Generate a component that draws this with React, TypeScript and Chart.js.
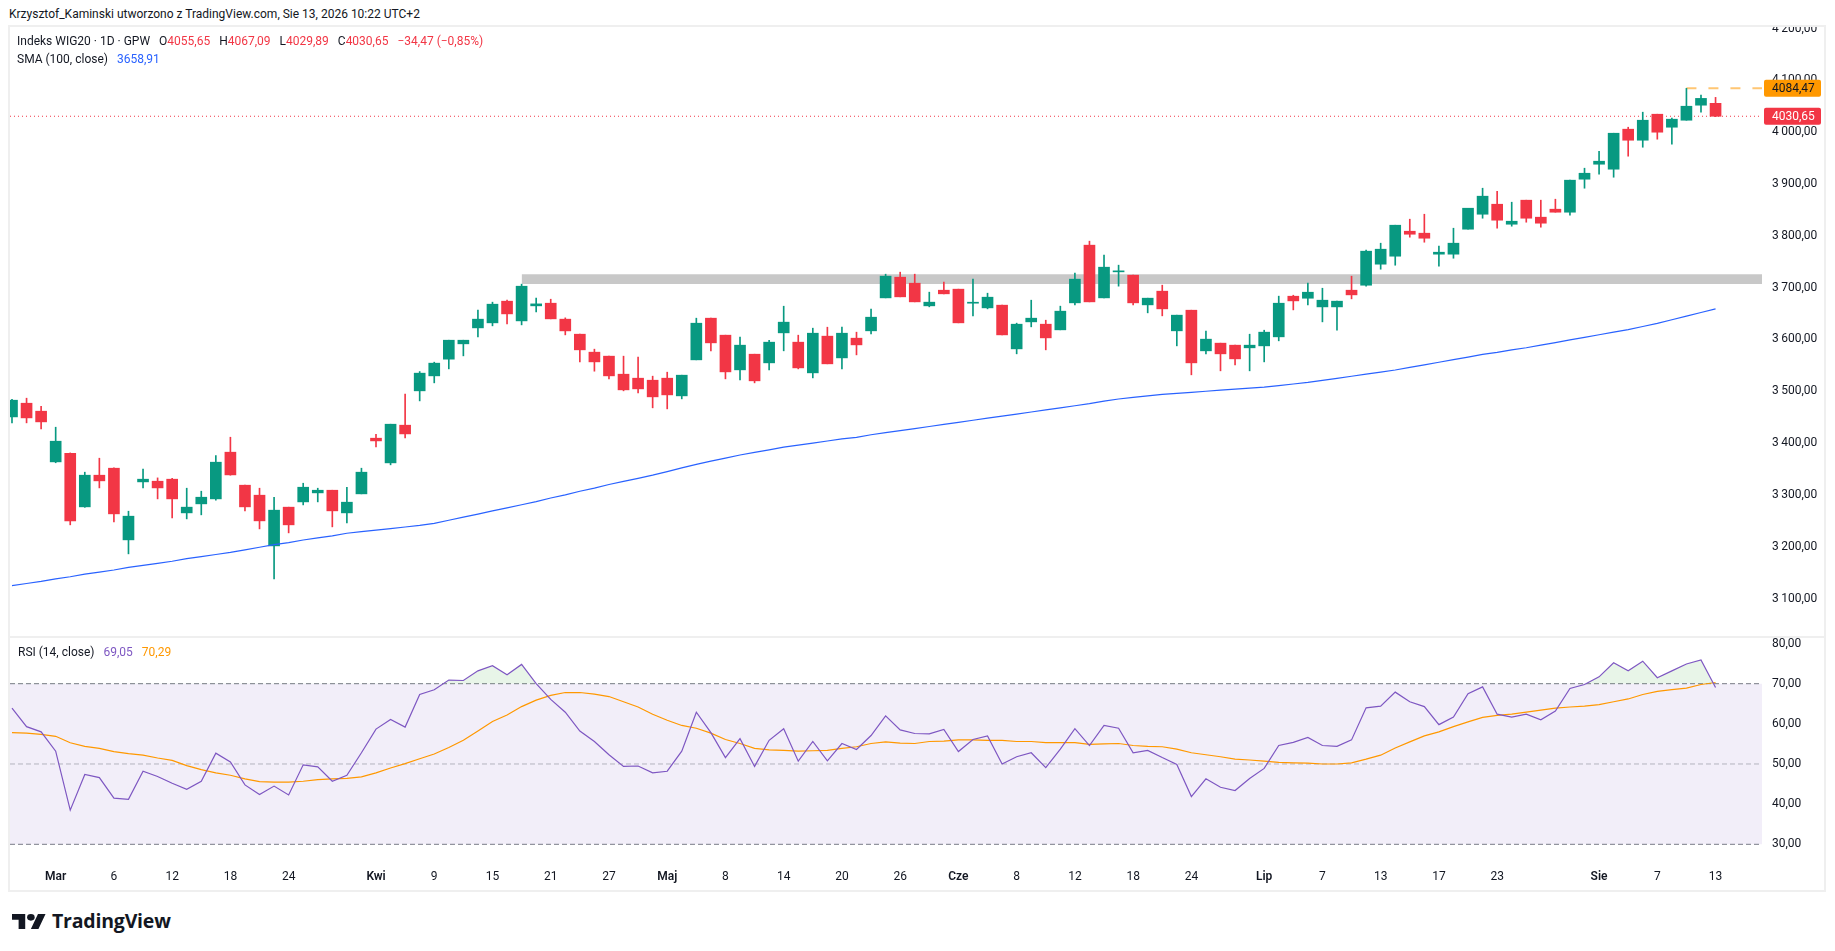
import React, { useEffect, useRef } from 'react';
import { Chart, registerables } from 'chart.js';

Chart.register(...registerables);

// ---------------- data ----------------
const opens = [
  3450.5, 3476.9, 3461.5, 3363.7, 3380.4, 3276.9, 3338, 3351.5, 3213.2, 3325.1,
  3326.4, 3330.3, 3265.3, 3282.7, 3292.3, 3382.4, 3318.7, 3299.4, 3201.6, 3276.3,
  3286.5, 3303.9, 3309, 3265.3, 3302, 3409.4, 3361.8, 3434.5, 3500.8, 3529.7,
  3561.9, 3591.5, 3622.3, 3632, 3673.8, 3635.8, 3664.8, 3669.9, 3639.1, 3610.1,
  3575.4, 3567.7, 3532.9, 3525.2, 3521.3, 3525.2, 3491.1, 3560.6, 3641, 3608.2,
  3541.3, 3571.5, 3554.8, 3612.7, 3594.7, 3535.5, 3606.3, 3564.4, 3602.4, 3616.6,
  3680.2, 3720.1, 3708.5, 3664.8, 3695, 3697, 3669.9, 3660.9, 3666.1, 3581.8,
  3633.9, 3629.4, 3618.5, 3670.6, 3781.9, 3680.2, 3730.4, 3724, 3666.7, 3693.1,
  3616.6, 3656.4, 3578, 3592.8, 3588.9, 3583.8, 3587.6, 3605, 3683.4, 3679.5,
  3662.8, 3662.8, 3695, 3704.6, 3745.2, 3760.6, 3808.8, 3805, 3764.5, 3764.5,
  3812.7, 3841.6, 3860.9, 3822.3, 3868.7, 3835.9, 3851.3, 3845.5, 3909.2, 3938.1,
  3928.5, 4005.7, 3984.4, 4034.6, 4009.5, 4023, 4052, 4055.65,
];
const highs = [
  3484.6, 3486.6, 3471.1, 3430.6, 3381, 3343.8, 3370.8, 3352, 3268.5, 3349.6,
  3332.8, 3332.2, 3312.9, 3307.1, 3376, 3411.3, 3318.7, 3312.9, 3295.5, 3276.3,
  3322.5, 3312.9, 3309, 3314.8, 3351.5, 3417.1, 3436.4, 3494.3, 3538, 3556.1,
  3598.5, 3598.5, 3656.4, 3671.9, 3675.7, 3706.6, 3679.6, 3677.6, 3641.6, 3610.1,
  3581.2, 3567.7, 3567.7, 3565.7, 3529.1, 3536.8, 3531, 3641, 3641, 3608.2,
  3604.3, 3571.5, 3598.5, 3664.1, 3608.2, 3621.7, 3623.6, 3623.6, 3614, 3658.4,
  3725.9, 3729.8, 3725.9, 3691.2, 3710.5, 3697, 3716.3, 3689.2, 3666.1, 3631.4,
  3675.7, 3637.1, 3664.2, 3727.8, 3789.6, 3762.6, 3743.3, 3724, 3679.6, 3704.7,
  3646.8, 3656.4, 3615.9, 3592.8, 3588.9, 3610.1, 3617.8, 3683.5, 3685.3, 3708.5,
  3698.8, 3673.8, 3722, 3772.2, 3785.7, 3820.4, 3832, 3841.6, 3779.9, 3814.6,
  3853.2, 3891.8, 3886, 3864.8, 3868.7, 3868.7, 3870.6, 3907.3, 3930.4, 3963.2,
  3997.9, 4009.5, 4038.5, 4034.6, 4026.9, 4084.47, 4071.3, 4067.09,
];
const lows = [
  3439, 3439, 3427.4, 3362, 3242.2, 3276, 3313.5, 3248, 3186.2, 3313.5,
  3292.3, 3255.7, 3253.7, 3261.5, 3289.7, 3338, 3269.2, 3234.4, 3138, 3226.7,
  3280.7, 3286.5, 3238.3, 3246, 3302, 3392.7, 3358, 3410, 3481.4, 3516.2,
  3543.2, 3568.3, 3605, 3626.2, 3630, 3628.1, 3653.2, 3639.7, 3608.8, 3556.7,
  3538.7, 3523.9, 3500.8, 3496.9, 3468, 3466, 3485.3, 3560.6, 3578, 3523.9,
  3522, 3516.2, 3541.3, 3578, 3543.2, 3525.8, 3552.9, 3543.2, 3570.2, 3610.8,
  3680.2, 3682.2, 3672.5, 3662.9, 3688, 3632, 3645.5, 3659, 3608.8, 3572.2,
  3624.3, 3579.9, 3618.5, 3666.7, 3672.5, 3680.2, 3702.8, 3666.7, 3651.3, 3645.5,
  3587.6, 3531.7, 3572.2, 3539.4, 3550.9, 3539.4, 3556.7, 3597.3, 3657, 3666.7,
  3633.9, 3617.8, 3678.3, 3702.7, 3735.5, 3743.2, 3797.3, 3787.6, 3741.3, 3756.7,
  3812.7, 3833.9, 3814.6, 3818.5, 3826.2, 3816.6, 3845.5, 3839.7, 3891.8, 3918.8,
  3913, 3953.6, 3970.9, 3986.4, 3976.7, 4023, 4038.5, 4029.89,
];
const closes = [
  3482.7, 3448.6, 3440.9, 3403.6, 3249.9, 3338, 3327.1, 3263.4, 3258.9, 3330.3,
  3313.5, 3292.3, 3276.3, 3295.5, 3363.1, 3338.6, 3276.9, 3249.9, 3270.5, 3242.2,
  3314.8, 3309, 3269.2, 3285.9, 3343.8, 3404.2, 3436.4, 3417.7, 3534.9, 3554.2,
  3598.5, 3598.5, 3639.1, 3668, 3649.3, 3702.7, 3668.6, 3639.7, 3616.5, 3579.9,
  3556.7, 3529.7, 3502.7, 3504.6, 3489.2, 3493, 3531, 3631.3, 3593.4, 3537.4,
  3588.9, 3520.1, 3594.7, 3633.3, 3545.1, 3612, 3552.9, 3612, 3589.5, 3642.9,
  3722.1, 3682.2, 3672.5, 3671.9, 3688, 3632, 3671, 3681.5, 3608.8, 3629.4,
  3641, 3603, 3654.5, 3716.3, 3672.5, 3739.4, 3731.7, 3670.6, 3679.6, 3659,
  3646.8, 3554.8, 3600.5, 3572.2, 3562.5, 3588.9, 3614, 3669.9, 3674.4, 3691.1,
  3675.7, 3673.8, 3686, 3770.3, 3774.1, 3820.4, 3803, 3795.3, 3768.3, 3785.7,
  3853.2, 3876.4, 3830.1, 3828.1, 3833.9, 3824.3, 3845.5, 3907.3, 3920.7, 3943.9,
  3997.9, 3984.4, 4023, 3999.9, 4025, 4050, 4065.12, 4030.65,
];
const sma100 = [
  3125, 3129, 3133, 3138, 3142, 3147, 3151, 3155, 3160, 3164,
  3168, 3172, 3177, 3181, 3185, 3189, 3194, 3199, 3204, 3208,
  3213, 3217, 3221, 3226, 3229, 3232, 3235, 3238, 3241, 3245,
  3251, 3257, 3263, 3269, 3275, 3281, 3287, 3294, 3300, 3307,
  3313, 3320, 3326, 3332, 3338, 3345, 3352, 3359, 3365, 3371,
  3377, 3382, 3387, 3392, 3396, 3400, 3404, 3408, 3411, 3416,
  3420, 3424, 3428, 3432, 3436, 3440, 3444, 3448, 3452, 3456,
  3460, 3464, 3468, 3472, 3476, 3481, 3485, 3488, 3491, 3494,
  3496, 3498, 3500, 3502, 3504, 3506, 3508, 3511, 3514, 3517,
  3521, 3525, 3529, 3533, 3537, 3541, 3546, 3551, 3556, 3561,
  3566, 3571, 3575, 3580, 3584, 3589, 3594, 3599, 3604, 3609,
  3614, 3619, 3625, 3631, 3638, 3645, 3652, 3658.91,
];
const rsi14 = [
  63.9, 59.3, 58.0, 53.2, 38.5, 47.4, 46.6, 41.5, 41.2, 48.2,
  46.9, 45.2, 43.7, 45.7, 52.7, 50.5, 44.8, 42.4, 44.5, 42.3,
  49.8, 49.3, 45.7, 47.2, 52.8, 58.7, 61.1, 59.2, 67.3, 68.5,
  70.9, 70.8, 73.2, 74.5, 72.2, 74.8, 70.0, 66.1, 62.9, 58.2,
  55.6, 52.3, 49.4, 49.5, 47.8, 48.2, 53.2, 62.9, 57.8, 51.6,
  56.3, 49.4, 55.9, 58.8, 50.7, 55.6, 50.8, 55.1, 53.6, 57.1,
  62.0, 58.5, 57.6, 57.5, 58.6, 53.1, 56.1, 57.0, 50.0, 51.8,
  52.8, 49.1, 53.7, 58.8, 54.6, 59.6, 58.9, 52.8, 53.4, 51.6,
  49.9, 41.9, 46.3, 44.2, 43.4, 46.4, 48.9, 54.6, 55.4, 56.6,
  54.6, 54.4, 56.0, 64.0, 64.4, 67.9, 65.5, 64.3, 59.8, 61.7,
  67.5, 69.2, 62.4, 61.7, 62.4, 61.0, 63.2, 68.8, 69.8, 71.7,
  75.2, 73.2, 75.6, 71.5, 73.2, 74.9, 75.9, 69.05,
];
const rsiMa = [
  57.8, 57.7, 57.4, 56.9, 55.3, 54.4, 53.9, 53.1, 52.6, 52.2,
  51.5, 50.9, 49.6, 48.6, 47.8, 47.2, 46.3, 45.6, 45.5, 45.5,
  45.7, 46.1, 46.3, 46.4, 46.8, 47.8, 49.0, 50.1, 51.3, 52.5,
  54.1, 55.9, 58.2, 60.6, 62.2, 64.3, 65.9, 67.1, 67.8, 67.8,
  67.4, 66.8, 65.5, 64.2, 62.4, 60.9, 59.6, 58.9, 57.7, 56.1,
  55.1, 53.9, 53.5, 53.4, 53.2, 53.3, 53.4, 53.9, 54.3, 55.1,
  55.5, 55.2, 55.1, 55.6, 55.7, 56.0, 56.0, 55.9, 55.9, 55.6,
  55.6, 55.3, 55.3, 55.3, 54.9, 55.0, 55.1, 54.6, 54.4, 54.3,
  53.7, 52.8, 52.3, 51.8, 51.2, 51.0, 50.7, 50.4, 50.3, 50.2,
  50.0, 50.0, 50.3, 51.2, 52.2, 54.0, 55.5, 57.0, 58.0, 59.3,
  60.5, 61.6, 62.1, 62.4, 62.9, 63.4, 63.9, 64.2, 64.4, 64.8,
  65.5, 66.2, 67.3, 68.1, 68.5, 68.9, 69.8, 70.29,
];

const timeTickIndex = [3, 7, 11, 15, 19, 25, 29, 33, 37, 41, 45, 49, 53, 57, 61, 65, 69, 73, 77, 81, 86, 90, 94, 98, 102, 109, 113, 117];
const timeTickText = ['Mar', '6', '12', '18', '24', 'Kwi', '9', '15', '21', '27', 'Maj', '8', '14', '20', '26', 'Cze', '8', '12', '18', '24', 'Lip', '7', '13', '17', '23', 'Sie', '7', '13'];
const monthLabels = ['Mar', 'Kwi', 'Maj', 'Cze', 'Lip', 'Sie'];
const priceTicks = [3100, 3200, 3300, 3400, 3500, 3600, 3700, 3800, 3900, 4000, 4100, 4200];
const rsiTicks = [30, 40, 50, 60, 70, 80];
const rsiLevels = [70, 50, 30];
const zoneStartIndex = 35;
const zoneTop = 3726;
const zoneBottom = 3707;
const highestIndex = 115;

// ---------------- styling / layout ----------------
const FONT = "Roboto, 'Liberation Sans', Arial, sans-serif";
const TEXT = '#131722';
const UP = '#089981';
const DOWN = '#F23645';
const SMA_COLOR = '#2962FF';
const RSI_COLOR = '#7E57C2';
const RSI_MA_COLOR = '#FF9800';
const X_MIN = -0.137;
const X_MAX = 120.19;
const AXIS_W = 62;

const last = closes.length - 1;
const lastClose = closes[last];
const highestHigh = highs[highestIndex];

const fmt2 = (v: number) => v.toFixed(2).replace('.', ',');
const fmtGrouped = (v: number) => {
  const [i, d] = v.toFixed(2).split('.');
  return i.replace(/\B(?=(\d{3})+(?!\d))/g, '\u2009') + ',' + d;
};
const minus = (s: string) => s.replace('-', '\u2212');

const candleColor = (ctx: any) => {
  const i = ctx.dataIndex ?? 0;
  return closes[i] >= opens[i] ? UP : DOWN;
};

const xScale = (show: boolean): any => ({
  type: 'linear',
  min: X_MIN,
  max: X_MAX,
  bounds: 'data',
  offset: false,
  display: show,
  position: 'bottom',
  grid: { display: false, drawTicks: false },
  border: { display: false },
  afterBuildTicks: (s: any) => {
    s.ticks = timeTickIndex.map((v) => ({ value: v }));
  },
  afterFit: (s: any) => {
    s.height = show ? 30 : 0;
    s.paddingLeft = 0;
    s.paddingRight = 0;
  },
  ticks: {
    autoSkip: false,
    maxRotation: 0,
    minRotation: 0,
    padding: 9.5,
    color: TEXT,
    font: (c: any) => ({
      family: FONT,
      size: 12,
      weight: monthLabels.includes(timeTickText[c.index]) ? '600' : '400',
    }),
    callback: (_v: any, i: number) => timeTickText[i],
  },
});

const yScale = (min: number, max: number, ticks: number[], fmt: (v: number) => string): any => ({
  type: 'linear',
  position: 'right',
  min,
  max,
  bounds: 'data',
  beginAtZero: false,
  grid: { display: false, drawTicks: false },
  border: { display: false },
  afterBuildTicks: (s: any) => {
    s.ticks = ticks.map((v) => ({ value: v }));
  },
  afterFit: (s: any) => {
    s.width = AXIS_W;
    s.paddingTop = 0;
    s.paddingBottom = 0;
  },
  ticks: {
    padding: 10,
    color: TEXT,
    font: { family: FONT, size: 12 },
    callback: (v: any) => fmt(Number(v)),
  },
});

const priceLabelPlugin = {
  id: 'priceLabels',
  afterDraw(chart: any) {
    const { ctx, chartArea, scales } = chart;
    const y = scales.y;
    const items = [
      { v: highestHigh, bg: '#FF9800', fg: TEXT },
      { v: lastClose, bg: DOWN, fg: '#FFFFFF' },
    ];
    ctx.save();
    items.forEach((it) => {
      const py = y.getPixelForValue(it.v);
      const x0 = chartArea.right + 2;
      const w = 57;
      const h = 17;
      ctx.fillStyle = it.bg;
      ctx.beginPath();
      if (ctx.roundRect) ctx.roundRect(x0, py - h / 2, w, h, 2);
      else ctx.rect(x0, py - h / 2, w, h);
      ctx.fill();
      ctx.fillStyle = it.fg;
      ctx.font = `12px ${FONT}`;
      ctx.textBaseline = 'middle';
      ctx.textAlign = 'left';
      ctx.fillText(fmt2(it.v), chartArea.right + 10, py + 0.5);
    });
    ctx.restore();
  },
};

function priceConfig(): any {
  const idx = closes.map((_c, i) => i);
  return {
    type: 'bar',
    data: {
      datasets: [
        {
          type: 'line',
          order: 9,
          data: [
            { x: zoneStartIndex, y: zoneTop },
            { x: X_MAX, y: zoneTop },
          ],
          borderWidth: 0,
          borderColor: 'rgba(0,0,0,0)',
          backgroundColor: '#C8C8C8',
          fill: { value: zoneBottom },
          pointRadius: 0,
        },
        {
          type: 'line',
          order: 8,
          data: [
            { x: X_MIN, y: lastClose },
            { x: X_MAX, y: lastClose },
          ],
          borderWidth: 1,
          borderColor: DOWN,
          borderDash: [1, 3],
          pointRadius: 0,
          fill: false,
        },
        {
          type: 'line',
          order: 7,
          data: [
            { x: highestIndex, y: highestHigh },
            { x: X_MAX, y: highestHigh },
          ],
          borderWidth: 2,
          borderColor: 'rgba(255,152,0,0.55)',
          borderDash: [10, 12],
          pointRadius: 0,
          fill: false,
        },
        {
          type: 'bar',
          order: 3,
          grouped: false,
          data: idx.map((i) => ({ x: i, y: [lows[i], highs[i]] })),
          backgroundColor: candleColor,
          borderWidth: 0,
          barThickness: 1,
          minBarLength: 1,
        },
        {
          type: 'bar',
          order: 2,
          grouped: false,
          data: idx.map((i) => ({ x: i, y: [Math.min(opens[i], closes[i]), Math.max(opens[i], closes[i])] })),
          backgroundColor: candleColor,
          borderWidth: 0,
          barThickness: 11,
          minBarLength: 1,
        },
        {
          type: 'line',
          order: 1,
          data: idx.map((i) => ({ x: i, y: sma100[i] })),
          borderWidth: 1.2,
          borderColor: SMA_COLOR,
          pointRadius: 0,
          tension: 0,
          fill: false,
        },
      ],
    },
    options: {
      responsive: false,
      animation: false,
      events: [],
      layout: { padding: 0 },
      plugins: { legend: { display: false }, tooltip: { enabled: false } },
      scales: {
        x: xScale(false),
        y: yScale(3027.7, 4202.9, priceTicks, fmtGrouped),
      },
    },
    plugins: [priceLabelPlugin],
  };
}

function rsiConfig(): any {
  const idx = rsi14.map((_r, i) => i);
  const level = (v: number) => [
    { x: X_MIN, y: v },
    { x: X_MAX, y: v },
  ];
  return {
    type: 'line',
    data: {
      datasets: [
        {
          order: 9,
          data: level(rsiLevels[0]),
          borderWidth: 1,
          borderColor: '#787B86',
          borderDash: [5, 3],
          backgroundColor: 'rgba(126,87,194,0.1)',
          fill: { value: rsiLevels[2] },
          pointRadius: 0,
        },
        {
          order: 8,
          data: level(rsiLevels[1]),
          borderWidth: 1,
          borderColor: 'rgba(120,123,134,0.5)',
          borderDash: [5, 3],
          pointRadius: 0,
          fill: false,
        },
        {
          order: 7,
          data: level(rsiLevels[2]),
          borderWidth: 1,
          borderColor: '#787B86',
          borderDash: [5, 3],
          pointRadius: 0,
          fill: false,
        },
        {
          order: 2,
          data: idx.map((i) => ({ x: i, y: rsiMa[i] })),
          borderWidth: 1.2,
          borderColor: RSI_MA_COLOR,
          pointRadius: 0,
          tension: 0,
          fill: false,
        },
        {
          order: 1,
          data: idx.map((i) => ({ x: i, y: rsi14[i] })),
          borderWidth: 1.2,
          borderColor: RSI_COLOR,
          pointRadius: 0,
          tension: 0,
          fill: { target: { value: rsiLevels[0] }, above: 'rgba(76,175,80,0.13)', below: 'rgba(0,0,0,0)' },
        },
      ],
    },
    options: {
      responsive: false,
      animation: false,
      events: [],
      layout: { padding: 0 },
      plugins: { legend: { display: false }, tooltip: { enabled: false } },
      scales: {
        x: xScale(true),
        y: yScale(26.09, 81.38, rsiTicks, fmt2),
      },
    },
  };
}

export default function App() {
  const priceRef = useRef<HTMLCanvasElement>(null);
  const rsiRef = useRef<HTMLCanvasElement>(null);

  useEffect(() => {
    const pc = new Chart(priceRef.current as HTMLCanvasElement, priceConfig());
    const rc = new Chart(rsiRef.current as HTMLCanvasElement, rsiConfig());
    return () => {
      pc.destroy();
      rc.destroy();
    };
  }, []);

  const change = lastClose - closes[last - 1];
  const pct = (change / closes[last - 1]) * 100;
  const red = { color: DOWN };
  const gap = { marginLeft: 9 };

  return (
    <div
      style={{
        position: 'fixed',
        left: 0,
        top: 0,
        width: 1835,
        height: 951,
        background: '#ffffff',
        fontFamily: FONT,
        color: TEXT,
        overflow: 'hidden',
      }}
    >
      <div style={{ position: 'absolute', left: 9, top: 6, fontSize: 12, lineHeight: '16px', whiteSpace: 'nowrap' }}>
        Krzysztof_Kaminski utworzono z TradingView.com, Sie 13, 2026 10:22 UTC+2
      </div>

      <div
        style={{
          position: 'absolute',
          left: 8,
          top: 25,
          width: 1818,
          height: 867,
          border: '2px solid #EFEFEF',
          boxSizing: 'border-box',
        }}
      />
      <div style={{ position: 'absolute', left: 10, top: 636, width: 1814, height: 2, background: '#EFEFEF' }} />

      <canvas
        ref={priceRef}
        width={1814}
        height={609}
        style={{ position: 'absolute', left: 10, top: 27, width: 1814, height: 609 }}
      />
      <canvas
        ref={rsiRef}
        width={1814}
        height={252}
        style={{ position: 'absolute', left: 10, top: 638, width: 1814, height: 252 }}
      />

      <div style={{ position: 'absolute', left: 17, top: 33, fontSize: 12, lineHeight: '16px', whiteSpace: 'nowrap' }}>
        <span>Indeks WIG20 · 1D · GPW</span>
        <span style={gap}>O<span style={red}>{fmt2(opens[last])}</span></span>
        <span style={gap}>H<span style={red}>{fmt2(highs[last])}</span></span>
        <span style={gap}>L<span style={red}>{fmt2(lows[last])}</span></span>
        <span style={gap}>C<span style={red}>{fmt2(lastClose)}</span></span>
        <span style={{ ...gap, ...red }}>
          {minus(fmt2(change))} ({minus(fmt2(pct))}%)
        </span>
      </div>
      <div style={{ position: 'absolute', left: 17, top: 50.5, fontSize: 12, lineHeight: '16px', whiteSpace: 'nowrap' }}>
        <span>SMA (100, close)</span>
        <span style={{ ...gap, color: SMA_COLOR }}>{fmt2(sma100[last])}</span>
      </div>
      <div style={{ position: 'absolute', left: 18, top: 644, fontSize: 12, lineHeight: '16px', whiteSpace: 'nowrap' }}>
        <span>RSI (14, close)</span>
        <span style={{ ...gap, color: RSI_COLOR }}>{fmt2(rsi14[last])}</span>
        <span style={{ ...gap, color: RSI_MA_COLOR }}>{fmt2(rsiMa[last])}</span>
      </div>

      <div style={{ position: 'absolute', left: 12, top: 909, display: 'flex', alignItems: 'center' }}>
        <svg width="34" height="15" viewBox="0 4 36 18" preserveAspectRatio="none">
          <path d="M14 22H7V11H0V4h14v18zM28 22h-8l7.5-18h8L28 22z" fill={TEXT} />
          <circle cx="20" cy="8" r="4" fill={TEXT} />
        </svg>
        <span
          style={{
            marginLeft: 6,
            fontFamily: "'Open Sans', Roboto, sans-serif",
            fontWeight: 700,
            fontSize: 19.5,
            lineHeight: '24px',
            letterSpacing: -0.2,
          }}
        >
          TradingView
        </span>
      </div>
    </div>
  );
}
